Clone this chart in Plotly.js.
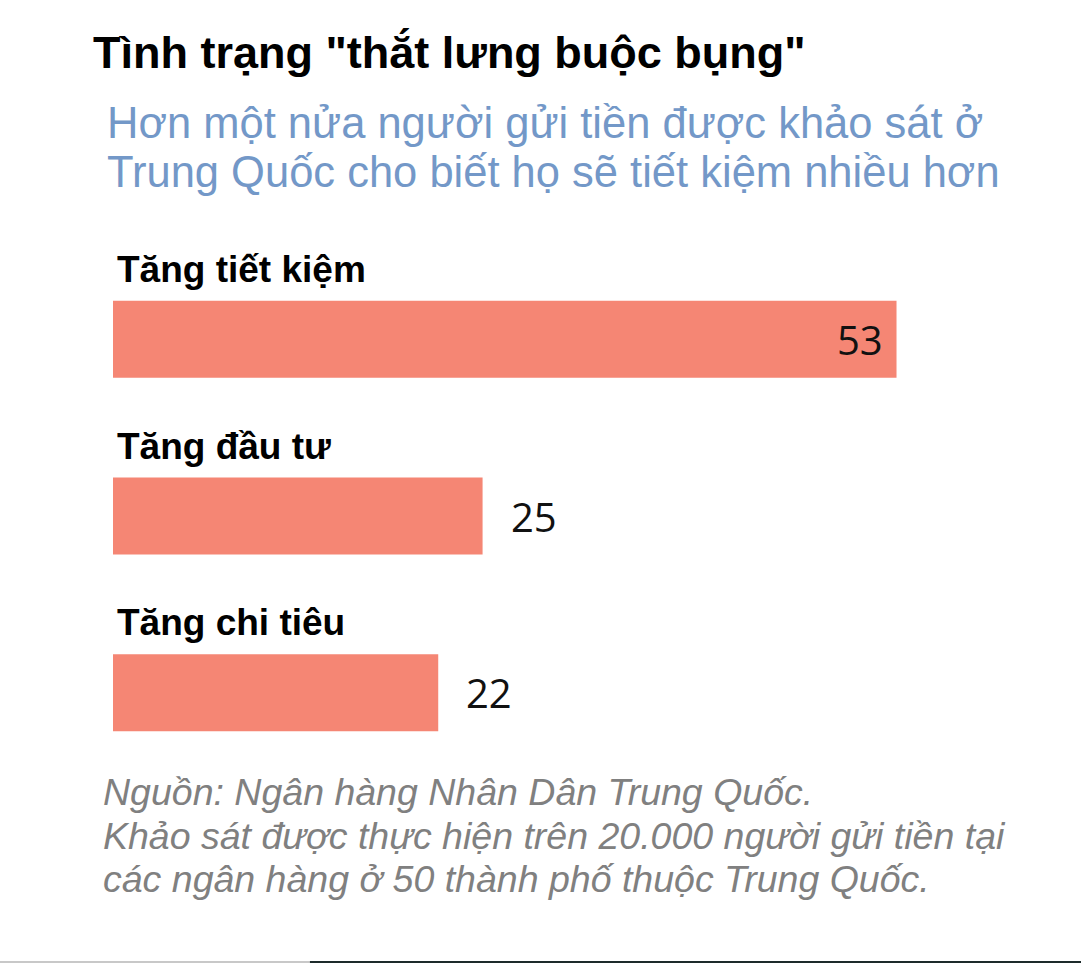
<!DOCTYPE html>
<html>
<head>
<meta charset="utf-8">
<script src="https://cdn.plot.ly/plotly-3.0.1.min.js"></script>
<style>
  html, body { margin: 0; padding: 0; background: #fff; }
  #chart { width: 1081px; height: 963px; }
</style>
</head>
<body>
<div id="chart"></div>
<script>
// Data
var categories = ["Tăng tiết kiệm", "Tăng đầu tư", "Tăng chi tiêu"];
var values = [53, 25, 22];

var titleText = 'Tình trạng "thắt lưng buộc bụng"';
var subtitleLines = [
  "Hơn một nửa người gửi tiền được khảo sát ở",
  "Trung Quốc cho biết họ sẽ tiết kiệm nhiều hơn"
];
var sourceLines = [
  "Nguồn: Ngân hàng Nhân Dân Trung Quốc.",
  "Khảo sát được thực hiện trên 20.000 người gửi tiền tại",
  "các ngân hàng ở 50 thành phố thuộc Trung Quốc."
];

var barColor = "#F58674";

var trace = {
  type: "bar",
  orientation: "h",
  x: values,
  y: categories,
  marker: { color: barColor, line: { width: 0 } },
  hoverinfo: "x+y"
};

var annotations = [];

// category labels above each bar
categories.forEach(function (c) {
  annotations.push({
    xref: "x", yref: "y", x: 0, y: c,
    xanchor: "left", yanchor: "middle",
    xshift: 2, yshift: 70,
    text: "<b>" + c + "</b>",
    showarrow: false,
    font: { family: "Liberation Sans, Arial, sans-serif", size: 37, color: "#000" }
  });
});

// value labels: inside the long bar, outside the short ones
values.forEach(function (v, i) {
  var inside = v > 40;
  annotations.push({
    xref: "x", yref: "y", x: v, y: categories[i],
    xanchor: inside ? "right" : "left", yanchor: "middle",
    xshift: inside ? -12 : 26,
    text: String(v),
    showarrow: false,
    font: { family: "Open Sans, Noto Sans, sans-serif", size: 40, color: "#111" }
  });
});

// subtitle, one annotation per line (paper y)
var subtitleY = [1.241, 1.150];
subtitleLines.forEach(function (s, i) {
  annotations.push({
    xref: "paper", yref: "paper", x: -0.009, y: subtitleY[i],
    xanchor: "left", yanchor: "middle", align: "left",
    text: s, showarrow: false,
    font: { family: "Liberation Sans, Arial, sans-serif", size: 43.5, color: "#7398C8" }
  });
});

// source note
var sourceY = [-0.020, -0.104, -0.185];
sourceLines.forEach(function (s, i) {
  annotations.push({
    xref: "paper", yref: "paper", x: -0.013, y: sourceY[i],
    xanchor: "left", yanchor: "middle", align: "left",
    text: "<i>" + s + "</i>", showarrow: false,
    font: { family: "Liberation Sans, Arial, sans-serif", size: 37.5, color: "#808080" }
  });
});

var layout = {
  width: 1081,
  height: 963,
  margin: { l: 113, r: 81, t: 251, b: 182 },
  paper_bgcolor: "#fff",
  plot_bgcolor: "#fff",
  showlegend: false,
  bargap: 0.564,
  title: {
    text: "<b>" + titleText + "</b>",
    xref: "container", yref: "container",
    x: 93 / 1081, xanchor: "left",
    y: 1 - 52 / 963, yanchor: "middle",
    font: { family: "Liberation Sans, Arial, sans-serif", size: 45, color: "#000" }
  },
  xaxis: {
    range: [0, 60],
    visible: false,
    fixedrange: true
  },
  yaxis: {
    type: "category",
    range: [2.5, -0.5],
    visible: false,
    fixedrange: true
  },
  annotations: annotations,
  shapes: [
    { type: "line", xref: "paper", yref: "paper", x0: -0.128, x1: 0.222, y0: -0.3415, y1: -0.3415,
      line: { color: "#c8c8c8", width: 2 } },
    { type: "line", xref: "paper", yref: "paper", x0: 0.222, x1: 1.092, y0: -0.3415, y1: -0.3415,
      line: { color: "#1d2b2b", width: 2 } }
  ]
};

Plotly.newPlot("chart", [trace], layout, { displayModeBar: false, staticPlot: true });
</script>
</body>
</html>
